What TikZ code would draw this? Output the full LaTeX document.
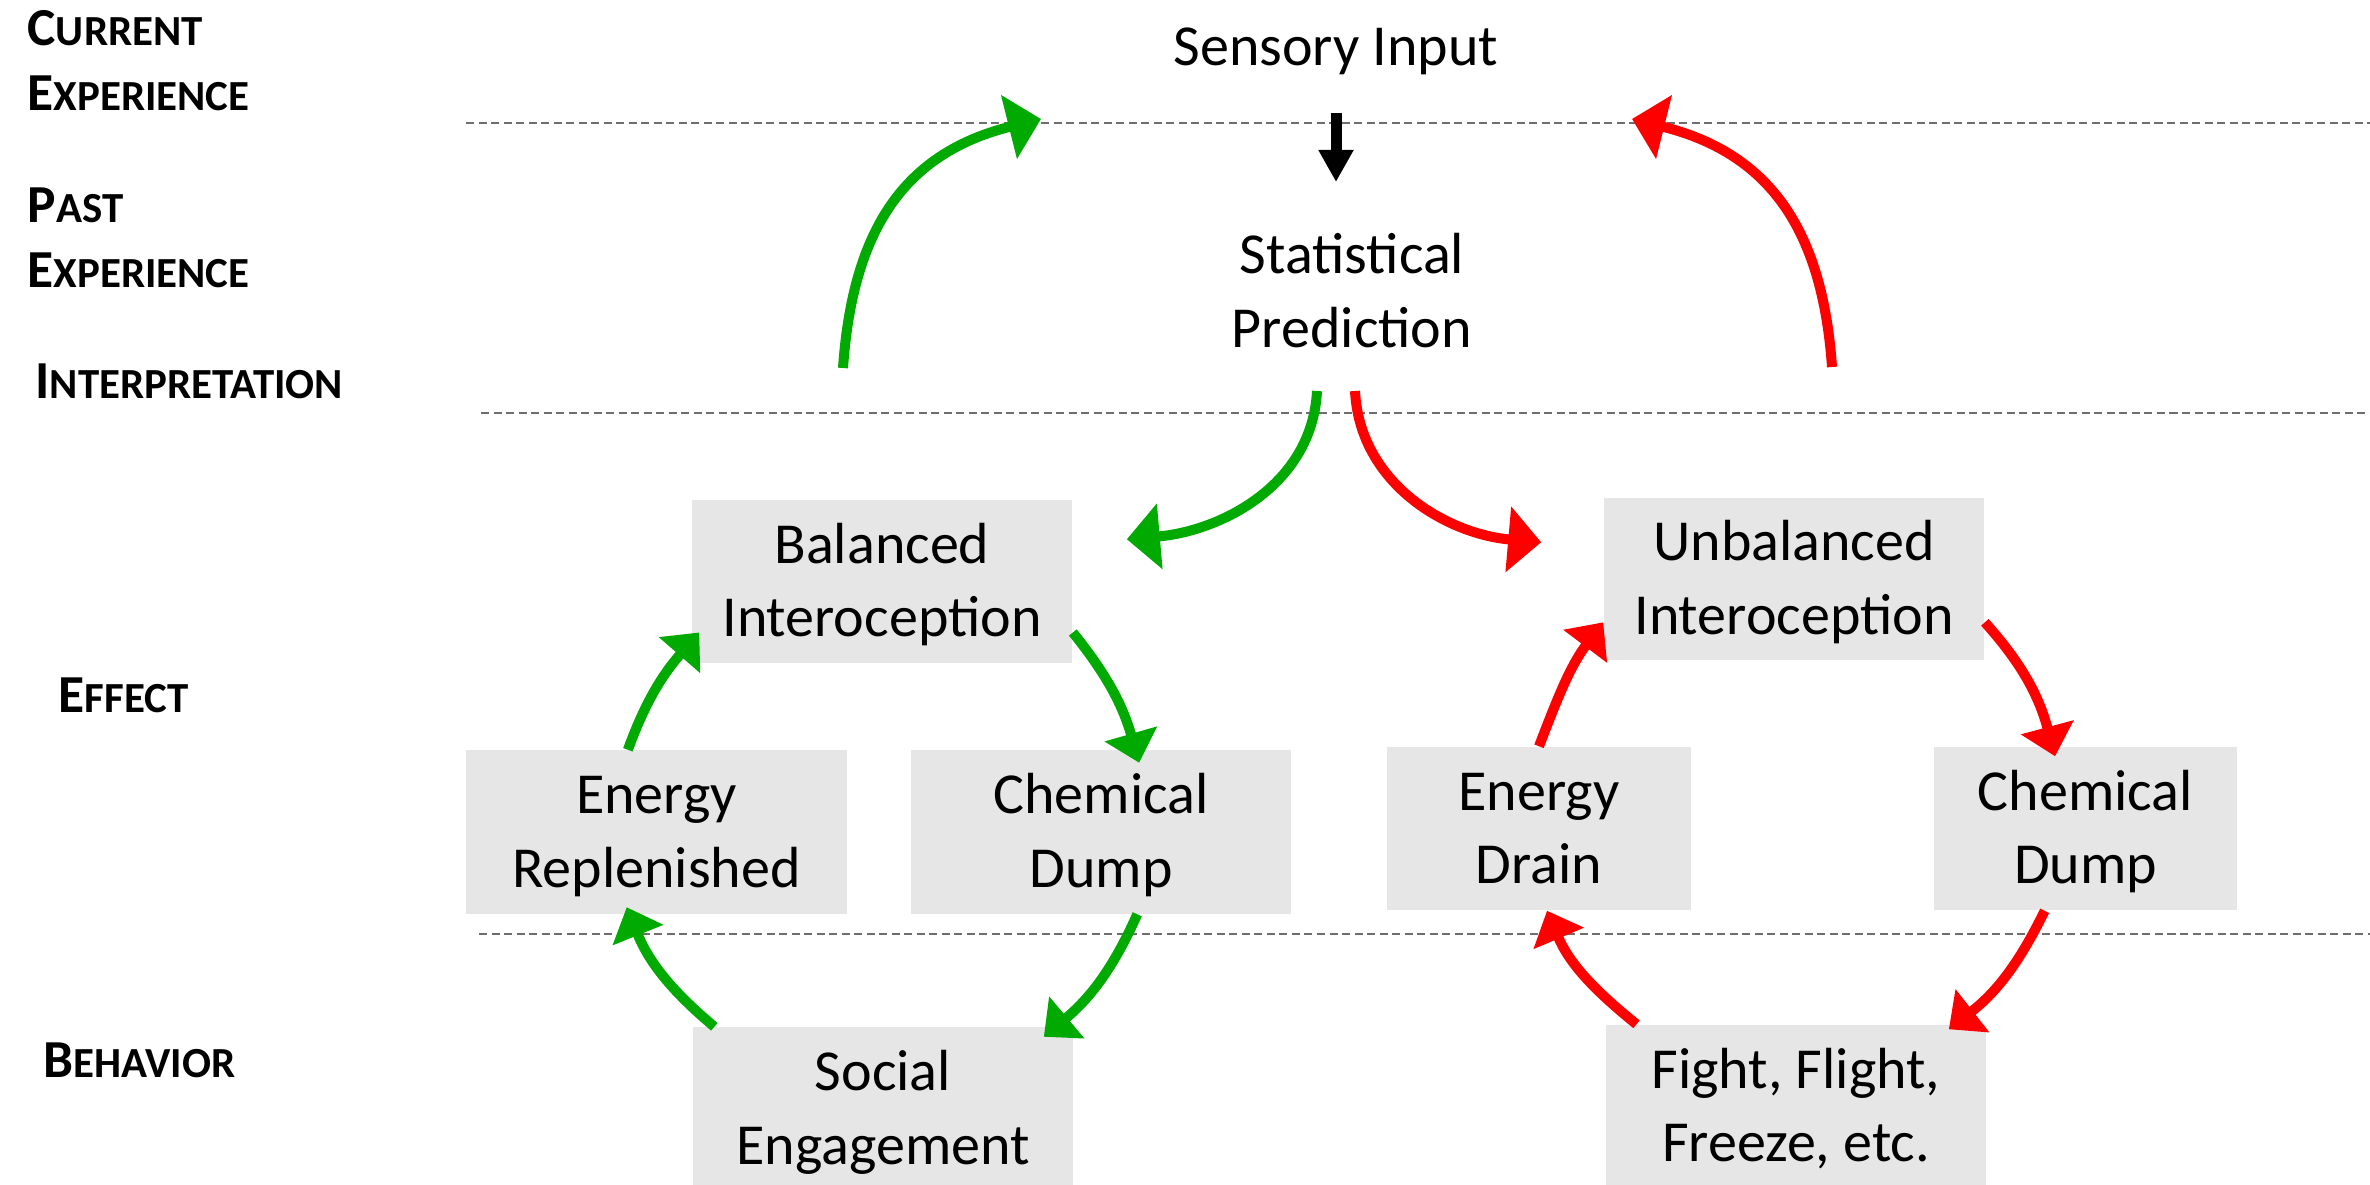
\documentclass[tikz,border=0pt]{standalone}
\usepackage{fontspec}
\setmainfont{Carlito}
\usetikzlibrary{arrows.meta,calc}
\definecolor{boxgray}{HTML}{E7E6E6}
\definecolor{mygreen}{RGB}{0,170,0}
\definecolor{myred}{RGB}{255,0,0}
\definecolor{sepgray}{RGB}{110,110,110}
\newcommand\bstr{\rule[-4.75pt]{0pt}{20pt}}
\newcommand\lstr{\rule[-5.5pt]{0pt}{18.5pt}}
\newcommand\SCx[2]{{\fontsize{15.2}{18.5}\selectfont #1}{\fontsize{12.2}{18.5}\selectfont #2}}
\begin{document}
\begin{tikzpicture}[x=0.01cm,y=0.01cm,
  box/.style={fill=boxgray, inner sep=0pt, minimum height=1.63cm, minimum width=3.8cm,
    align=center, font=\fontsize{16.5}{19.9}\selectfont},
  txt/.style={inner sep=0pt, align=center, font=\fontsize{16.5}{19.9}\selectfont},
  lab/.style={inner sep=0pt, align=left, font=\bfseries\fontsize{15.2}{18.5}\selectfont},
  sepline/.style={draw=sepgray, line width=0.02cm, dash pattern=on 0.08cm off 0.045cm},
  bigtip/.style={-{Triangle[length=0.33cm,width=0.64cm]}},
  smalltip/.style={-{Triangle[length=0.3cm,width=0.53cm]}},
  garr/.style={draw=mygreen, line width=0.1cm},
  rarr/.style={draw=myred, line width=0.1cm},
]
\useasboundingbox (0,0) rectangle (2370,-1184);
\clip (0,0) rectangle (2370,-1184);

% separators
\draw[sepline] (466,-123) -- (2370,-123);
\draw[sepline] (481,-413) -- (2370,-413);
\draw[sepline] (479,-934) -- (2370,-934);

% row labels
\node[lab, anchor=north west] (cur) at (27,0.7) {\SCx{C}{URRENT}\lstr\\\SCx{E}{XPERIENCE}\lstr};
\node[lab, anchor=north west] (past) at (27,-176.3) {\SCx{P}{AST}\lstr\\\SCx{E}{XPERIENCE}\lstr};
\node[lab, anchor=base west] (interp) at (35,-398) {\SCx{I}{NTERPRETATION}};
\node[lab, anchor=base west] (eff) at (58,-712) {\SCx{E}{FFECT}};
\node[lab, anchor=base west] (beh) at (43,-1077) {\SCx{B}{EHAVIOR}};

% top texts
\node[txt, anchor=base, text depth=0pt] (sens) at (1336,-65) {Sensory Input};
\node[txt, anchor=north] (stat) at (1352,-219.4) {Statistical\bstr\\Prediction\bstr};

% boxes
\node[box] (bal) at (882,-581.5) {Balanced\bstr\\Interoception\bstr};
\node[box] (erL) at (656.5,-832) {Energy\bstr\\Replenished\bstr};
\node[box] (cdL) at (1101,-832) {Chemical\bstr\\Dump\bstr};
\node[box] (soc) at (883,-1109) {Social\bstr\\Engagement\bstr};
\node[box, minimum height=1.62cm] (unb) at (1794,-579) {Unbalanced\bstr\\Interoception\bstr};
\node[box, minimum width=3.04cm] (ed) at (1539,-828.5) {Energy\bstr\\Drain\bstr};
\node[box, minimum width=3.03cm] (cdR) at (2085.5,-828.5) {Chemical\bstr\\Dump\bstr};
\node[box] (fight) at (1796,-1106.5) {Fight, Flight,\bstr\\Freeze, etc.\bstr};

% black arrow
\draw[line width=0.11cm, -{Triangle[length=0.32cm,width=0.33cm]},
  shorten <=0.47cm, shorten >=0.374cm] (sens.south) -- (sens.south |- stat.north);

% top arcs
\coordinate (gA) at (843,-368);
\coordinate (gB) at (1041,-119);
\coordinate (rA) at (1832,-367);
\coordinate (rB) at (1632,-119);
\draw[garr, bigtip] (gA) to[out=86, in=194, out distance=1.4cm, in distance=1.4cm] (gB);
\draw[rarr, bigtip] (rA) to[out=94, in=-14, out distance=1.4cm, in distance=1.4cm] (rB);

% split arrows
\draw[garr, bigtip] ($(stat.south)+(-35,-26)$) to[out=-93, in=5] ($(bal.north east)+(54,-40)$);
\draw[rarr, bigtip] ($(stat.south)+(3,-26)$) to[out=-87, in=175] ($(unb.north west)+(-62,-45)$);

% left cycle
\draw[garr, smalltip] ($(erL.north west)!0.425!(erL.north east)$) to[out=70, in=229]
  ($(bal.south west)!0.19!(bal.north west)+(8,0)$);
\draw[garr, smalltip] ($(bal.south east)!0.19!(bal.north east)$) to[out=-51, in=106]
  ($(cdL.north west)!0.6!(cdL.north east)+(0,-13)$);
\draw[garr, smalltip] ($(cdL.south west)!0.595!(cdL.south east)$) to[out=-114, in=40]
  ($(soc.north east)+(-30,-10)$);
\draw[garr, smalltip] ($(soc.north west)!0.058!(soc.north east)$) to[out=140, in=292]
  ($(erL.south west)!0.422!(erL.south east)+(0,7)$);

% right cycle
\draw[rarr, smalltip] (ed.north) to[out=69, in=233]
  ($(unb.south west)!0.235!(unb.north west)$);
\draw[rarr, smalltip] ($(unb.south east)!0.235!(unb.north east)$) to[out=-48, in=105]
  ($(cdR.north west)!0.4!(cdR.north east)+(0,-10)$);
\draw[rarr, smalltip] ($(cdR.south west)!0.366!(cdR.south east)$) to[out=-116, in=38]
  ($(fight.north east)+(-38,-5)$);
\draw[rarr, smalltip] ($(fight.north west)!0.082!(fight.north east)$) to[out=141, in=293]
  ($(ed.south)+(8,0)$);
\end{tikzpicture}
\end{document}
